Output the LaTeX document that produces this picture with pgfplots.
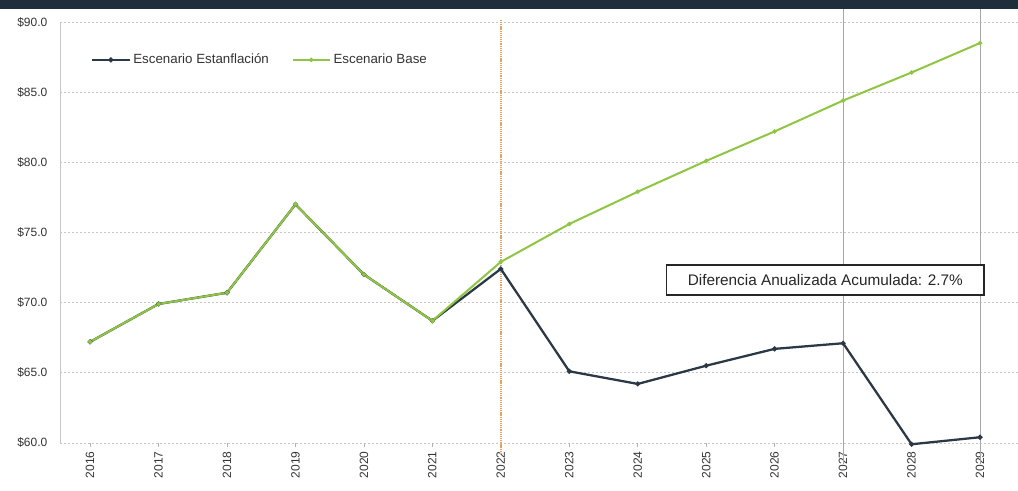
\documentclass[border=0pt]{standalone}
\usepackage{pgfplots}
\pgfplotsset{compat=1.18}
\usepackage{fontspec}
\setmainfont{Liberation Sans}
\definecolor{estan}{HTML}{2B3845}
\definecolor{base}{HTML}{8EC641}
\definecolor{band}{HTML}{1F2E3B}
\definecolor{refline}{HTML}{E8A062}
\begin{document}
\begin{tikzpicture}
\begin{axis}[
    scale only axis,
    width=718.5pt, height=315.75pt,
    xmin=2015.56, xmax=2029.55,
    ymin=60, ymax=90,
    clip=false,
    axis y line*=left, axis x line*=bottom,
    x axis line style={draw=none},
    y axis line style={gray!45, line width=0.5pt},
    xtick={2016,...,2029},
    xticklabels={2016,2017,2018,2019,2020,2021,2022,2023,2024,2025,2026,2027,2028,2029},
    xticklabel style={rotate=90, anchor=east, font=\fontsize{9}{10}\selectfont, text=black!80},
    xtick style={gray!60, line width=0.4pt},
    tick align=outside, major tick length=3pt,
    ytick={60,65,...,90},
    ytick style={draw=none},
    yticklabel={\$\pgfmathprintnumber[fixed,fixed zerofill,precision=1,assume math mode=true]{\tick}},
    yticklabel style={font=\fontsize{9}{10}\selectfont, text=black!80, xshift=-3pt},
    ymajorgrids=true,
    major grid style={dash pattern=on 1.5pt off 1.5pt, gray!45, line width=0.5pt},
    legend style={at={(rel axis cs:0.028,0.91)}, anchor=west, draw=none, fill=none,
        legend columns=-1, font=\fontsize{10}{12}\selectfont, text=black!80,
        /tikz/every even column/.append style={column sep=15pt}},
    legend image code/.code={\draw[#1, mark repeat=2, mark phase=2] plot coordinates {(0pt,0pt) (14pt,0pt) (28pt,0pt)};},
]
% title band and picture bounds
\fill[band] ([xshift=-45pt, yshift=9.75pt]rel axis cs:0,1) rectangle ([yshift=16.5pt]rel axis cs:1,1);
\path ([xshift=-45pt, yshift=-36pt]rel axis cs:0,0);
% reference lines
\draw[refline, line width=1.3pt, dash pattern=on 0.9pt off 0.7pt] (axis cs:2022,59.2) -- (axis cs:2022,90.2);
\draw[gray!70, line width=0.4pt] (axis cs:2027,58.5) -- ([yshift=9.75pt]axis cs:2027,90);
\draw[gray!70, line width=0.4pt] (axis cs:2029,58.5) -- ([yshift=9.75pt]axis cs:2029,90);

\addplot[estan, line width=1.7pt, mark=*, mark size=0.9pt] coordinates {
    (2016,67.2) (2017,69.9) (2018,70.7) (2019,77.0) (2020,72.0) (2021,68.7)
    (2022,72.4) (2023,65.1) (2024,64.2) (2025,65.5) (2026,66.7) (2027,67.1)
    (2028,59.9) (2029,60.4)
};
\addlegendentry{Escenario Estanflación}

\addplot[base, line width=1.5pt, mark=*, mark size=0.8pt] coordinates {
    (2016,67.2) (2017,69.9) (2018,70.7) (2019,77.0) (2020,72.0) (2021,68.7)
    (2022,72.9) (2023,75.6) (2024,77.9) (2025,80.1) (2026,82.2) (2027,84.4)
    (2028,86.4) (2029,88.5)
};
\addlegendentry{Escenario Base}

\node[draw=black!85, line width=1.2pt, fill=white, minimum width=238pt, minimum height=22.5pt,
    inner sep=2pt, font=\fontsize{11.5}{13}\selectfont, text=black!85]
    at (axis cs:2026.74,71.6) {Diferencia Anualizada Acumulada: 2.7\%};
\end{axis}
\end{tikzpicture}
\end{document}
